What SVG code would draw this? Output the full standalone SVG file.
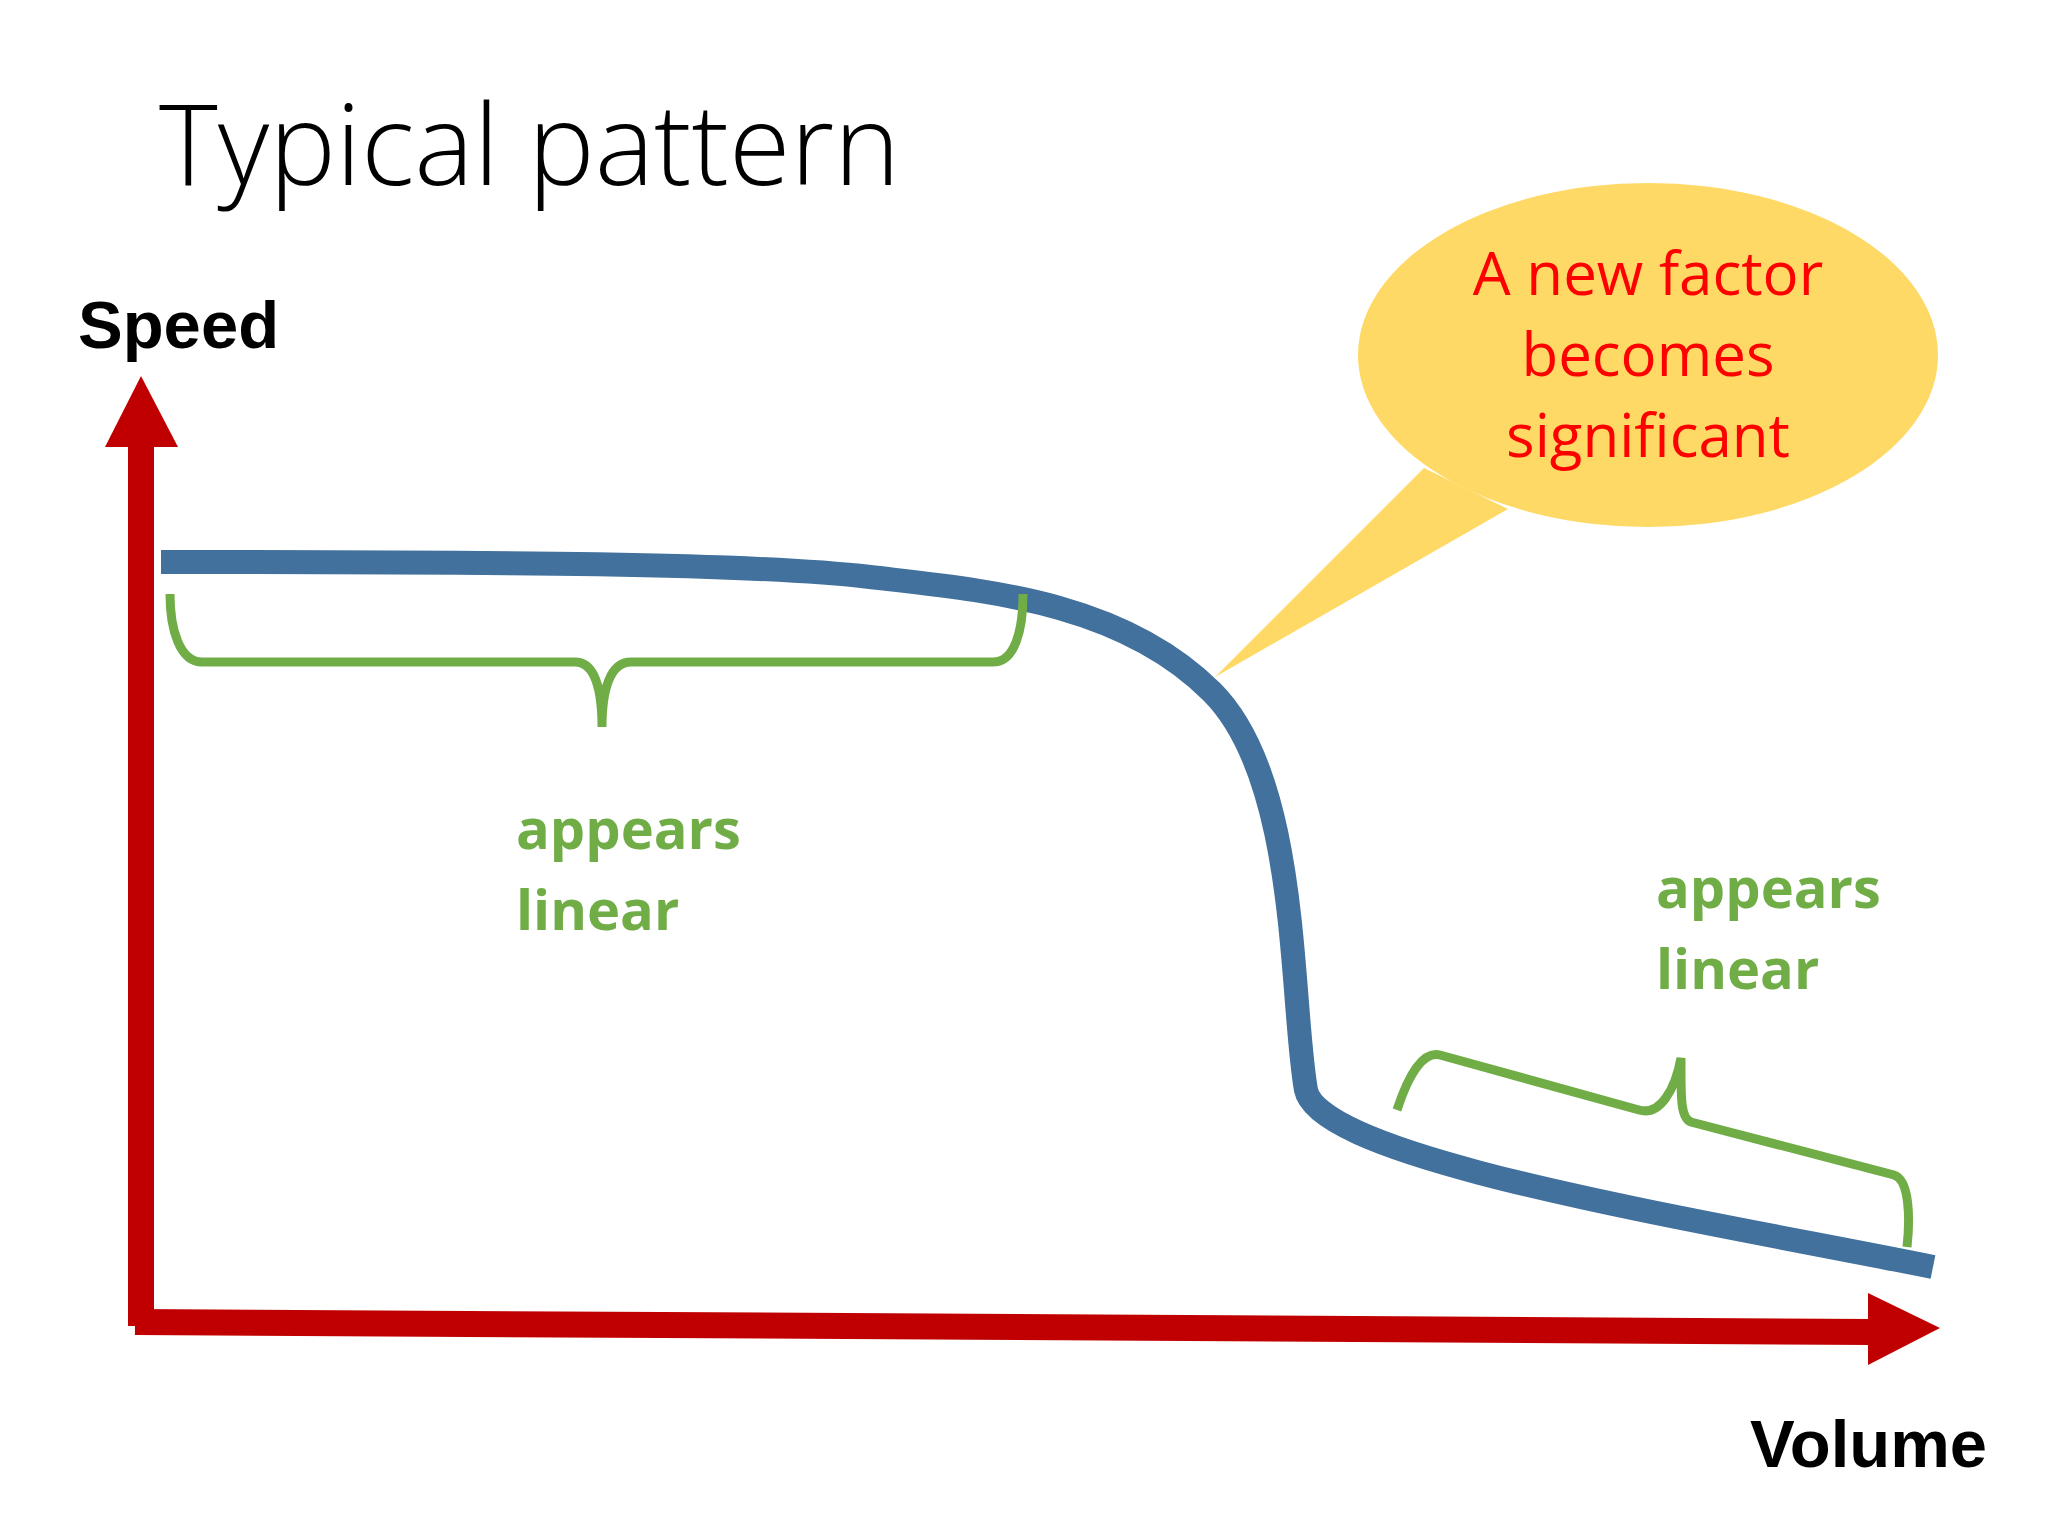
<svg xmlns="http://www.w3.org/2000/svg" width="2048" height="1536" viewBox="0 0 2048 1536">
<style>
.g{fill:none;stroke:#70AD47;stroke-width:9}
.gt{font-family:"Open Sans",sans-serif;font-weight:bold;font-size:56px;fill:#70AD47}
.ax{font-family:"Liberation Sans",Arial,sans-serif;font-weight:bold;font-size:67px;fill:#000}
.ct{font-family:"Open Sans",sans-serif;font-size:60px;fill:#FF0000;text-anchor:middle}
</style>
<rect width="2048" height="1536" fill="#fff"/>
<text x="159" y="185" font-family="Open Sans, sans-serif" font-weight="300" font-size="112" fill="#000">Typical pattern</text>
<g id="axes">
<line x1="141" y1="1326" x2="141" y2="440" stroke="#C00000" stroke-width="26"/>
<polygon points="141,376 105,447 178,447" fill="#C00000"/>
<line x1="135" y1="1322" x2="1872" y2="1332" stroke="#C00000" stroke-width="26"/>
<polygon points="1868,1293 1940,1328 1868,1365" fill="#C00000"/>
<text class="ax" x="78" y="348">Speed</text>
<text class="ax" x="1750" y="1467">Volume</text>
</g>
<g id="curve">
<path d="M161,562 C500,562 750,563 870,577 C980,590 1120,600 1212,692 C1300,780 1290,1000 1306,1090 C1320,1160 1700,1220 1933,1267" fill="none" stroke="#41719C" stroke-width="24"/>
</g>
<g id="callout">
<polygon points="1424,468 1215,677 1508,509" fill="#FFD966"/>
<ellipse cx="1648" cy="355" rx="290" ry="172" fill="#FFD966"/>
<text class="ct" x="1648" y="295">A new factor</text>
<text class="ct" x="1648" y="376">becomes</text>
<text class="ct" x="1648" y="457">significant</text>
</g>
<g id="brace1">
<path class="g" d="M170,594 C170,630 180,662 202,662 L575,662 C595,662 602,690 602,727 C602,690 610,662 631,662 L993,662 C1015,662 1023,630 1023,594"/>
<text class="gt" x="516" y="849">appears</text>
<text class="gt" x="516" y="930">linear</text>
</g>
<g id="brace2">
<path class="g" d="M1397,1110 C1410,1070 1425,1051 1440,1055 L1639,1110 C1660,1116 1675,1090 1681,1058 C1681,1095 1680,1118 1691,1122 L1894,1175 C1910,1180 1910,1220 1907,1247"/>
<text class="gt" x="1656" y="908">appears</text>
<text class="gt" x="1656" y="989">linear</text>
</g>
</svg>
